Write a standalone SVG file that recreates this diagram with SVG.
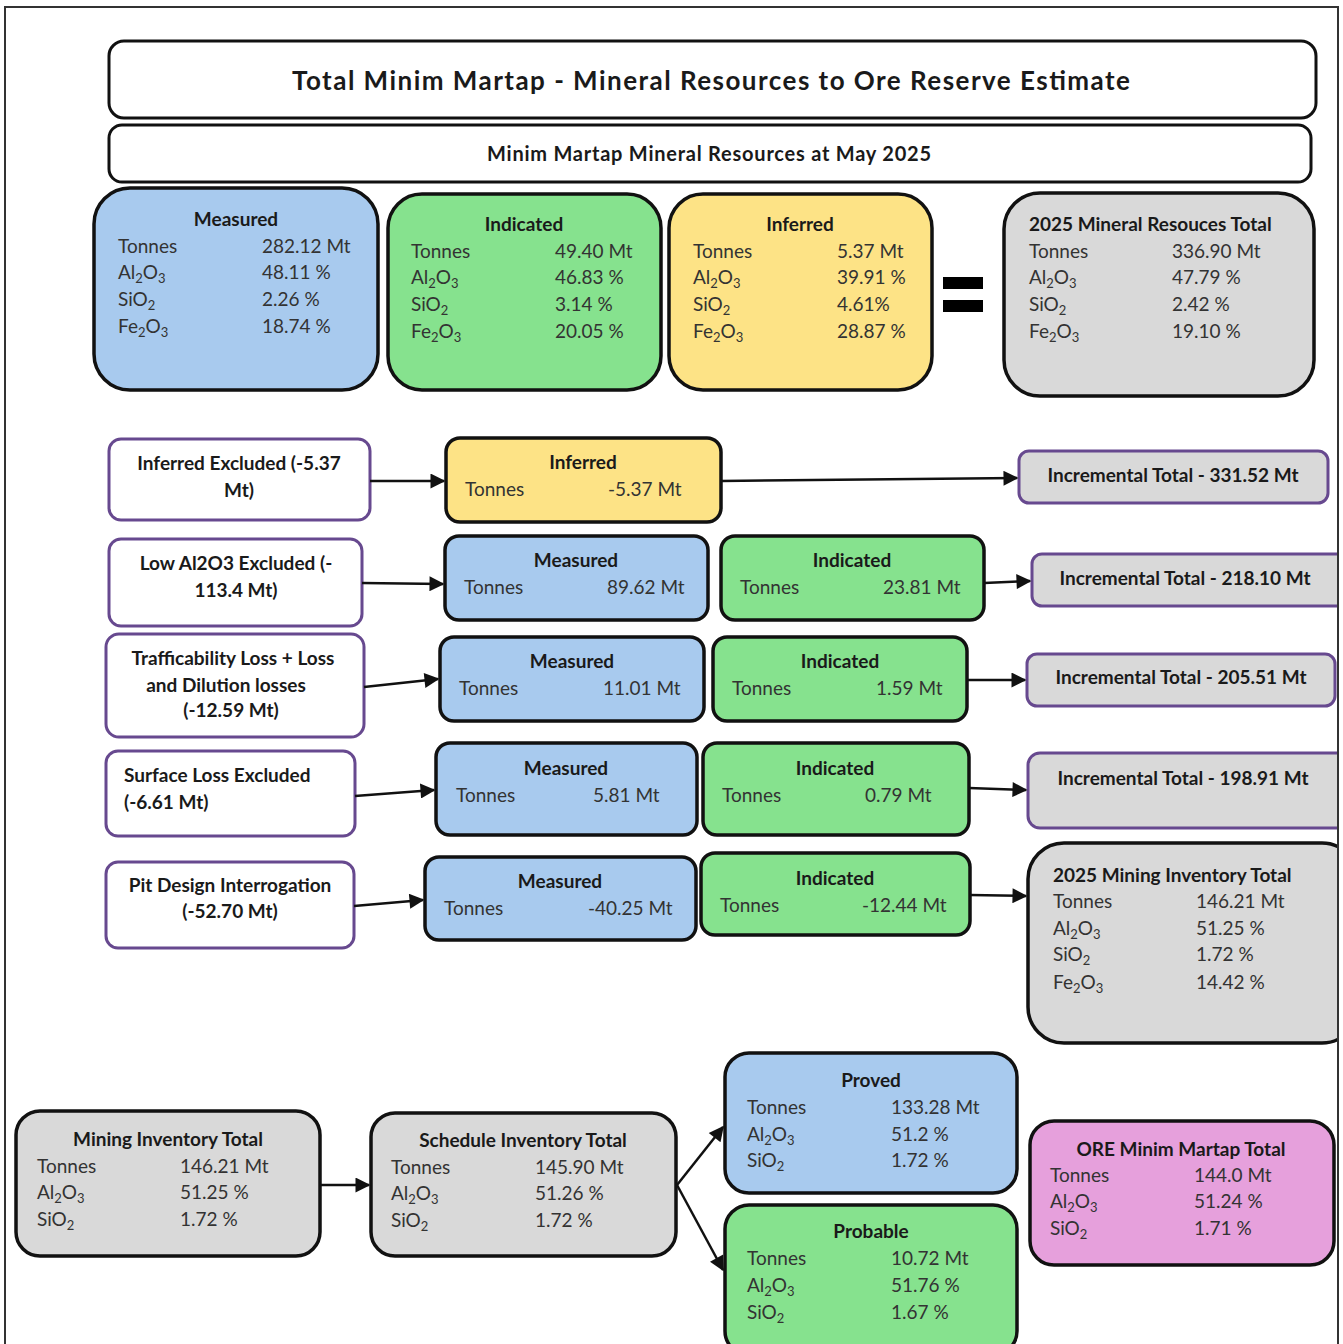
<svg xmlns="http://www.w3.org/2000/svg" width="1343" height="1344" viewBox="0 0 1343 1344">
  <defs>
    <style>
      text { font-family: "Lato", "Open Sans", "Liberation Sans", sans-serif; fill: #333; font-size: 19px; }
      .hd { font-weight: bold; fill: #1a1a1a; }
      .c { text-anchor: middle; }
      .sb { font-size: 13px; }
      .t1 { font-size: 26px; }
      .t2 { font-size: 20px; }
      .box { stroke: #111; stroke-width: 3.5; }
      .thin { stroke-width: 3; }
      .blue { fill: #a8caee; }
      .green { fill: #86e28e; }
      .yellow { fill: #fde386; }
      .grey { fill: #d9d9d9; }
      .pink { fill: #e6a0dc; }
      .white { fill: #ffffff; }
      .purple { stroke: #67498f; stroke-width: 3; }
      .conn line { stroke: #111; stroke-width: 2.5; marker-end: url(#arrow); }
    </style>
    <marker id="arrow" viewBox="0 0 10 10" refX="9" refY="5" markerWidth="7" markerHeight="6" markerUnits="strokeWidth" orient="auto">
      <path d="M0,0 L10,5 L0,10 z" fill="#111"/>
    </marker>
    <!-- keeps shapes inside the page frame -->
    <clipPath id="page">
      <rect x="0" y="0" width="1338" height="1344"/>
    </clipPath>
  </defs>

  <rect width="1343" height="1344" fill="#ffffff"/>

  <g clip-path="url(#page)">
  <!-- headings -->
  <g id="title">
    <rect x="109" y="41" width="1207" height="77" rx="15" class="white box thin"/>
    <text x="711" y="90" class="hd c t1" textLength="838">Total Minim Martap - Mineral Resources to Ore Reserve Estimate</text>
  </g>
  <g id="subtitle">
    <rect x="109" y="125" width="1202" height="57" rx="13" class="white box thin"/>
    <text x="709" y="161" class="hd c t2" textLength="444">Minim Martap Mineral Resources at May 2025</text>
  </g>

  <!-- 2025 resource categories -->
  <g id="res-measured">
    <rect x="94" y="188" width="284" height="202" rx="36" class="blue box"/>
    <text x="236" y="226" class="hd c">Measured</text>
    <text x="118" y="253">Tonnes</text><text x="262" y="253">282.12 Mt</text>
    <text x="118" y="279">Al<tspan class="sb" dy="4">2</tspan><tspan dy="-4">O</tspan><tspan class="sb" dy="4">3</tspan></text><text x="262" y="279">48.11 %</text>
    <text x="118" y="306">SiO<tspan class="sb" dy="4">2</tspan></text><text x="262" y="306">2.26 %</text>
    <text x="118" y="333">Fe<tspan class="sb" dy="4">2</tspan><tspan dy="-4">O</tspan><tspan class="sb" dy="4">3</tspan></text><text x="262" y="333">18.74 %</text>
  </g>
  <g id="res-indicated">
    <rect x="388" y="194" width="273" height="196" rx="34" class="green box"/>
    <text x="524" y="231" class="hd c">Indicated</text>
    <text x="411" y="258">Tonnes</text><text x="555" y="258">49.40 Mt</text>
    <text x="411" y="284">Al<tspan class="sb" dy="4">2</tspan><tspan dy="-4">O</tspan><tspan class="sb" dy="4">3</tspan></text><text x="555" y="284">46.83 %</text>
    <text x="411" y="311">SiO<tspan class="sb" dy="4">2</tspan></text><text x="555" y="311">3.14 %</text>
    <text x="411" y="338">Fe<tspan class="sb" dy="4">2</tspan><tspan dy="-4">O</tspan><tspan class="sb" dy="4">3</tspan></text><text x="555" y="338">20.05 %</text>
  </g>
  <g id="res-inferred">
    <rect x="669" y="194" width="263" height="196" rx="34" class="yellow box"/>
    <text x="800" y="231" class="hd c">Inferred</text>
    <text x="693" y="258">Tonnes</text><text x="837" y="258">5.37 Mt</text>
    <text x="693" y="284">Al<tspan class="sb" dy="4">2</tspan><tspan dy="-4">O</tspan><tspan class="sb" dy="4">3</tspan></text><text x="837" y="284">39.91 %</text>
    <text x="693" y="311">SiO<tspan class="sb" dy="4">2</tspan></text><text x="837" y="311">4.61%</text>
    <text x="693" y="338">Fe<tspan class="sb" dy="4">2</tspan><tspan dy="-4">O</tspan><tspan class="sb" dy="4">3</tspan></text><text x="837" y="338">28.87 %</text>
  </g>
  <g id="equals">
    <rect x="943" y="277" width="40" height="12" fill="#000"/>
    <rect x="943" y="300" width="40" height="12" fill="#000"/>
  </g>
  <g id="res-total">
    <rect x="1004" y="193" width="310" height="203" rx="36" class="grey box"/>
    <text x="1029" y="231" class="hd">2025 Mineral Resouces Total</text>
    <text x="1029" y="258">Tonnes</text><text x="1172" y="258">336.90 Mt</text>
    <text x="1029" y="284">Al<tspan class="sb" dy="4">2</tspan><tspan dy="-4">O</tspan><tspan class="sb" dy="4">3</tspan></text><text x="1172" y="284">47.79 %</text>
    <text x="1029" y="311">SiO<tspan class="sb" dy="4">2</tspan></text><text x="1172" y="311">2.42 %</text>
    <text x="1029" y="338">Fe<tspan class="sb" dy="4">2</tspan><tspan dy="-4">O</tspan><tspan class="sb" dy="4">3</tspan></text><text x="1172" y="338">19.10 %</text>
  </g>

  <!-- row 1 -->
  <g id="step-inferred-excluded">
    <rect x="109" y="439" width="261" height="81" rx="12" class="white purple"/>
    <text x="239" y="470" class="hd c">Inferred Excluded (-5.37</text>
    <text x="239" y="497" class="hd c">Mt)</text>
  </g>
  <g id="row1-inferred">
    <rect x="446" y="438" width="275" height="84" rx="14" class="yellow box"/>
    <text x="583" y="469" class="hd c">Inferred</text>
    <text x="465" y="496">Tonnes</text><text x="608" y="496">-5.37 Mt</text>
  </g>
  <g id="inc-331">
    <rect x="1019" y="451" width="309" height="52" rx="10" class="grey purple"/>
    <text x="1173" y="482" class="hd c">Incremental Total - 331.52 Mt</text>
  </g>

  <!-- row 2 -->
  <g id="step-low-al2o3">
    <rect x="109" y="539" width="253" height="87" rx="12" class="white purple"/>
    <text x="236" y="570" class="hd c">Low Al2O3 Excluded (-</text>
    <text x="236" y="597" class="hd c">113.4 Mt)</text>
  </g>
  <g id="row2-measured">
    <rect x="445" y="536" width="263" height="84" rx="14" class="blue box"/>
    <text x="576" y="567" class="hd c">Measured</text>
    <text x="464" y="594">Tonnes</text><text x="607" y="594">89.62 Mt</text>
  </g>
  <g id="row2-indicated">
    <rect x="721" y="536" width="263" height="84" rx="14" class="green box"/>
    <text x="852" y="567" class="hd c">Indicated</text>
    <text x="740" y="594">Tonnes</text><text x="883" y="594">23.81 Mt</text>
  </g>
  <g id="inc-218">
    <rect x="1032" y="554" width="320" height="52" rx="10" class="grey purple"/>
    <text x="1185" y="585" class="hd c">Incremental Total - 218.10 Mt</text>
  </g>

  <!-- row 3 -->
  <g id="step-trafficability">
    <rect x="106" y="634" width="258" height="103" rx="13" class="white purple"/>
    <text x="233" y="665" class="hd c">Trafficability Loss + Loss</text>
    <text x="226" y="692" class="hd c">and Dilution losses</text>
    <text x="231" y="717" class="hd c">(-12.59 Mt)</text>
  </g>
  <g id="row3-measured">
    <rect x="440" y="637" width="264" height="84" rx="14" class="blue box"/>
    <text x="572" y="668" class="hd c">Measured</text>
    <text x="459" y="695">Tonnes</text><text x="603" y="695">11.01 Mt</text>
  </g>
  <g id="row3-indicated">
    <rect x="713" y="637" width="254" height="84" rx="14" class="green box"/>
    <text x="840" y="668" class="hd c">Indicated</text>
    <text x="732" y="695">Tonnes</text><text x="876" y="695">1.59 Mt</text>
  </g>
  <g id="inc-205">
    <rect x="1027" y="654" width="308" height="52" rx="10" class="grey purple"/>
    <text x="1181" y="684" class="hd c">Incremental Total - 205.51 Mt</text>
  </g>

  <!-- row 4 -->
  <g id="step-surface-loss">
    <rect x="106" y="751" width="249" height="85" rx="12" class="white purple"/>
    <text x="124" y="782" class="hd">Surface Loss Excluded</text>
    <text x="124" y="809" class="hd">(-6.61 Mt)</text>
  </g>
  <g id="row4-measured">
    <rect x="436" y="743" width="261" height="92" rx="14" class="blue box"/>
    <text x="566" y="775" class="hd c">Measured</text>
    <text x="456" y="802">Tonnes</text><text x="593" y="802">5.81 Mt</text>
  </g>
  <g id="row4-indicated">
    <rect x="703" y="743" width="266" height="92" rx="14" class="green box"/>
    <text x="835" y="775" class="hd c">Indicated</text>
    <text x="722" y="802">Tonnes</text><text x="865" y="802">0.79 Mt</text>
  </g>
  <g id="inc-198">
    <rect x="1028" y="753" width="324" height="75" rx="12" class="grey purple"/>
    <text x="1183" y="785" class="hd c">Incremental Total - 198.91 Mt</text>
  </g>

  <!-- row 5 -->
  <g id="step-pit-design">
    <rect x="106" y="862" width="248" height="86" rx="12" class="white purple"/>
    <text x="230" y="892" class="hd c">Pit Design Interrogation</text>
    <text x="230" y="918" class="hd c">(-52.70 Mt)</text>
  </g>
  <g id="row5-measured">
    <rect x="425" y="857" width="271" height="83" rx="14" class="blue box"/>
    <text x="560" y="888" class="hd c">Measured</text>
    <text x="444" y="915">Tonnes</text><text x="588" y="915">-40.25 Mt</text>
  </g>
  <g id="row5-indicated">
    <rect x="701" y="853" width="269" height="82" rx="14" class="green box"/>
    <text x="835" y="885" class="hd c">Indicated</text>
    <text x="720" y="912">Tonnes</text><text x="862" y="912">-12.44 Mt</text>
  </g>
  <g id="mining-inventory-2025">
    <rect x="1028" y="843" width="330" height="200" rx="36" class="grey box"/>
    <text x="1053" y="882" class="hd">2025 Mining Inventory Total</text>
    <text x="1053" y="908">Tonnes</text><text x="1196" y="908">146.21 Mt</text>
    <text x="1053" y="935">Al<tspan class="sb" dy="4">2</tspan><tspan dy="-4">O</tspan><tspan class="sb" dy="4">3</tspan></text><text x="1196" y="935">51.25 %</text>
    <text x="1053" y="961">SiO<tspan class="sb" dy="4">2</tspan></text><text x="1196" y="961">1.72 %</text>
    <text x="1053" y="989">Fe<tspan class="sb" dy="4">2</tspan><tspan dy="-4">O</tspan><tspan class="sb" dy="4">3</tspan></text><text x="1196" y="989">14.42 %</text>
  </g>

  <!-- reserve conversion -->
  <g id="mining-inventory">
    <rect x="16" y="1111" width="304" height="145" rx="24" class="grey box"/>
    <text x="168" y="1146" class="hd c">Mining Inventory Total</text>
    <text x="37" y="1173">Tonnes</text><text x="180" y="1173">146.21 Mt</text>
    <text x="37" y="1199">Al<tspan class="sb" dy="4">2</tspan><tspan dy="-4">O</tspan><tspan class="sb" dy="4">3</tspan></text><text x="180" y="1199">51.25 %</text>
    <text x="37" y="1226">SiO<tspan class="sb" dy="4">2</tspan></text><text x="180" y="1226">1.72 %</text>
  </g>
  <g id="schedule-inventory">
    <rect x="371" y="1113" width="305" height="143" rx="24" class="grey box"/>
    <text x="523" y="1147" class="hd c">Schedule Inventory Total</text>
    <text x="391" y="1174">Tonnes</text><text x="535" y="1174">145.90 Mt</text>
    <text x="391" y="1200">Al<tspan class="sb" dy="4">2</tspan><tspan dy="-4">O</tspan><tspan class="sb" dy="4">3</tspan></text><text x="535" y="1200">51.26 %</text>
    <text x="391" y="1227">SiO<tspan class="sb" dy="4">2</tspan></text><text x="535" y="1227">1.72 %</text>
  </g>
  <g id="proved">
    <rect x="725" y="1053" width="292" height="140" rx="24" class="blue box"/>
    <text x="871" y="1087" class="hd c">Proved</text>
    <text x="747" y="1114">Tonnes</text><text x="891" y="1114">133.28 Mt</text>
    <text x="747" y="1141">Al<tspan class="sb" dy="4">2</tspan><tspan dy="-4">O</tspan><tspan class="sb" dy="4">3</tspan></text><text x="891" y="1141">51.2 %</text>
    <text x="747" y="1167">SiO<tspan class="sb" dy="4">2</tspan></text><text x="891" y="1167">1.72 %</text>
  </g>
  <g id="probable">
    <rect x="725" y="1205" width="292" height="150" rx="24" class="green box"/>
    <text x="871" y="1238" class="hd c">Probable</text>
    <text x="747" y="1265">Tonnes</text><text x="891" y="1265">10.72 Mt</text>
    <text x="747" y="1292">Al<tspan class="sb" dy="4">2</tspan><tspan dy="-4">O</tspan><tspan class="sb" dy="4">3</tspan></text><text x="891" y="1292">51.76 %</text>
    <text x="747" y="1319">SiO<tspan class="sb" dy="4">2</tspan></text><text x="891" y="1319">1.67 %</text>
  </g>
  <g id="ore-total">
    <rect x="1030" y="1121" width="304" height="144" rx="24" class="pink box"/>
    <text x="1181" y="1156" class="hd c">ORE Minim Martap Total</text>
    <text x="1050" y="1182">Tonnes</text><text x="1194" y="1182">144.0 Mt</text>
    <text x="1050" y="1208">Al<tspan class="sb" dy="4">2</tspan><tspan dy="-4">O</tspan><tspan class="sb" dy="4">3</tspan></text><text x="1194" y="1208">51.24 %</text>
    <text x="1050" y="1235">SiO<tspan class="sb" dy="4">2</tspan></text><text x="1194" y="1235">1.71 %</text>
  </g>

  <!-- connectors -->
  <g id="connectors" class="conn">
    <line x1="370" y1="481" x2="444" y2="481"/>
    <line x1="721" y1="481" x2="1017" y2="478"/>
    <line x1="362" y1="583" x2="443" y2="584"/>
    <line x1="984" y1="583" x2="1030" y2="581"/>
    <line x1="364" y1="687" x2="438" y2="679"/>
    <line x1="967" y1="680" x2="1025" y2="680"/>
    <line x1="355" y1="796" x2="434" y2="790"/>
    <line x1="969" y1="788" x2="1026" y2="790"/>
    <line x1="354" y1="906" x2="423" y2="900"/>
    <line x1="970" y1="895" x2="1026" y2="896"/>
    <line x1="320" y1="1185" x2="369" y2="1185"/>
    <line x1="677" y1="1185" x2="723" y2="1127"/>
    <line x1="677" y1="1185" x2="723" y2="1270"/>
  </g>
  </g>

  <!-- outer page frame -->
  <rect x="5" y="7" width="1333" height="1345" fill="none" stroke="#333" stroke-width="2"/>
</svg>
